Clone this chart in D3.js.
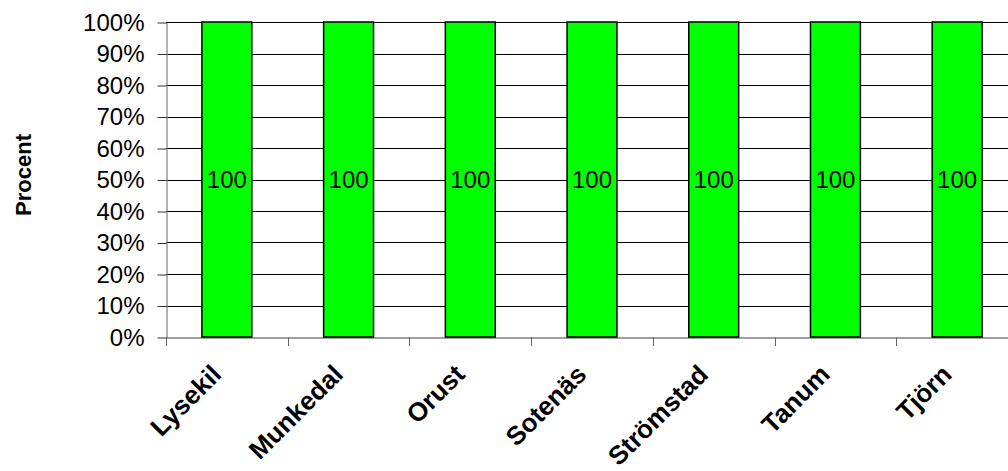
<!DOCTYPE html>
<html>
<head>
<meta charset="utf-8">
<script src="https://cdn.jsdelivr.net/npm/d3@7"></script>
<style>
  body { margin: 0; background: #fff; }
  text { font-family: "Liberation Sans", Arial, sans-serif; }
</style>
</head>
<body>
<div class="chartContainer"></div>
<script>
// chart data
var kommuner = ['Lysekil', 'Munkedal', 'Orust', 'Sotenäs', 'Strömstad', 'Tanum', 'Tjörn'];
var andel = [100, 100, 100, 100, 100, 100, 100];
var yTicks = [0, 10, 20, 30, 40, 50, 60, 70, 80, 90, 100];

const width = 1008;
const height = 471;
const plotLeft = 166, plotRight = 1018, plotTop = 22, plotBottom = 337;

const svg = d3.select('.chartContainer')
              .append('svg')
                .attr('width', width)
                .attr('height', height);

const xScale = d3.scaleBand()
                 .domain(kommuner)
                 .range([plotLeft, plotRight]);

const yScale = d3.scaleLinear()
                 .domain([0, 100])
                 .range([plotBottom, plotTop]);

// gridlines
svg.append('g')
   .selectAll('line')
   .data(yTicks.filter(d => d > 0))
   .enter()
   .append('line')
     .attr('x1', plotLeft)
     .attr('x2', plotRight)
     .attr('y1', d => Math.round(yScale(d)) + 0.5)
     .attr('y2', d => Math.round(yScale(d)) + 0.5)
     .attr('stroke', '#000')
     .attr('stroke-width', 1);

// y axis
const yAxis = svg.append('g')
   .attr('transform', `translate(${plotLeft + 0.5}, 0.5)`)
   .call(d3.axisLeft(yScale).tickValues(yTicks).tickSize(9).tickSizeOuter(0).tickFormat(d => d + '%'));
yAxis.select('.domain').attr('stroke', '#808080').attr('stroke-width', 1.2);
yAxis.selectAll('.tick line').attr('stroke', '#333');
yAxis.selectAll('.tick text')
     .attr('x', -22)
     .attr('fill', '#000')
     .style('font-size', '24px')
     .style('font-family', '"Liberation Sans", Arial, sans-serif');

// x axis
const xAxis = svg.append('g')
   .attr('transform', `translate(0, ${plotBottom + 0.5})`)
   .call(d3.axisBottom(xScale).tickSize(0).tickSizeOuter(0).tickFormat(''));
xAxis.select('.domain').attr('stroke', '#808080').attr('stroke-width', 1.5);

// tick marks at category boundaries
svg.append('g')
   .selectAll('line')
   .data(kommuner)
   .enter()
   .append('line')
     .attr('x1', d => Math.round(xScale(d)) + 0.5)
     .attr('x2', d => Math.round(xScale(d)) + 0.5)
     .attr('y1', plotBottom)
     .attr('y2', plotBottom + 9)
     .attr('stroke', '#666');

// bars
const barW = xScale.bandwidth() * 0.41;
svg.append('g')
   .selectAll('rect')
   .data(kommuner)
   .enter()
   .append('rect')
     .attr('x', (d) => xScale(d) + (xScale.bandwidth() - barW) / 2)
     .attr('y', (d, i) => yScale(andel[i]))
     .attr('width', barW)
     .attr('height', (d, i) => yScale(0) - yScale(andel[i]))
     .attr('fill', '#00ff00')
     .attr('stroke', '#000')
     .attr('stroke-width', 1.5);

// value labels
svg.append('g')
   .selectAll('text')
   .data(kommuner)
   .enter()
   .append('text')
     .attr('x', (d) => xScale(d) + xScale.bandwidth() / 2)
     .attr('y', (d, i) => yScale(andel[i] / 2))
     .attr('dy', '0.35em')
     .attr('text-anchor', 'middle')
     .style('font-size', '24px')
     .text((d, i) => andel[i]);

// category labels
svg.append('g')
   .selectAll('text')
   .data(kommuner)
   .enter()
   .append('text')
     .attr('transform', (d) => `translate(${xScale(d) + xScale.bandwidth() / 2 - 4}, 376) rotate(-45)`)
     .attr('text-anchor', 'end')
     .style('font-size', '26px')
     .style('font-weight', 'bold')
     .text((d) => d);

// y title
svg.append('text')
   .attr('transform', `translate(31, 175) rotate(-90)`)
   .attr('text-anchor', 'middle')
   .style('font-size', '22px')
   .style('font-weight', 'bold')
   .text('Procent');
</script>
</body>
</html>
